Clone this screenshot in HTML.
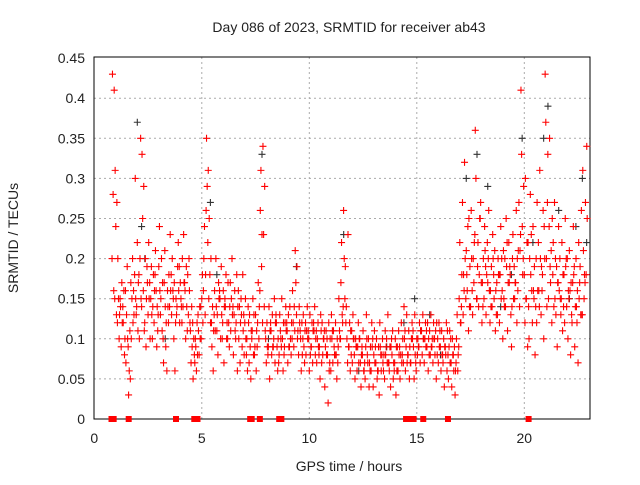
<!DOCTYPE html>
<html><head><meta charset="utf-8"><style>
html,body{margin:0;padding:0;background:#fff}
svg text{font-family:"Liberation Sans",sans-serif;fill:#222}
</style></head><body>
<svg id="chart" width="640" height="480" viewBox="0 0 640 480" xmlns="http://www.w3.org/2000/svg">
<rect width="640" height="480" fill="#fff"/>
<text x="349" y="32" font-size="14" text-anchor="middle">Day 086 of 2023, SRMTID for receiver ab43</text>
<g id="grid"></g>
<g id="axes"></g>
<g id="marks"></g>
<text x="349" y="471" font-size="14" text-anchor="middle">GPS time / hours</text>
<text transform="translate(18,238) rotate(-90)" font-size="14" text-anchor="middle">SRMTID / TECUs</text>
</svg>
<script>
const xTicks=[0,5,10,15,20];
const yTicks=[0,0.05,0.1,0.15,0.2,0.25,0.3,0.35,0.4,0.45];
const yTickLabels=["0","0.05","0.1","0.15","0.2","0.25","0.3","0.35","0.4","0.45"];
const redBins=[
[0.875,0.43,0.28,0.16],[1.0,0.31,0.24,0.13],[1.125,0.2,0.15,0.1],[1.25,0.14,0.09,0.17],[1.375,0.12,0.16,0.08],[1.5,0.07,0.13,0.19],[1.625,0.03,0.06,0.11],[1.75,0.1,0.15,0.2],[1.875,0.13,0.18,0.3],[2.0,0.14,0.22,0.11],[2.125,0.1,0.2,0.35],[2.25,0.33,0.25,0.16],[2.375,0.12,0.2,0.09],[2.5,0.17,0.13,0.22],[2.625,0.1,0.15,0.19],[2.75,0.14,0.18,0.12],[2.875,0.21,0.16,0.09],[3.0,0.13,0.19,0.24],[3.125,0.15,0.2,0.11],[3.25,0.07,0.17,0.21],[3.375,0.12,0.06,0.16],[3.5,0.18,0.14,0.23],[3.625,0.13,0.2,0.16],[3.75,0.17,0.06,0.12],[3.875,0.14,0.19,0.22],[4.0,0.12,0.17,0.15],[4.125,0.2,0.14,0.23],[4.25,0.16,0.1,0.19],[4.375,0.18,0.13,0.2],[4.5,0.11,0.07,0.14],[4.625,0.05,0.1,0.08],[4.75,0.09,0.06,0.12],[4.875,0.11,0.08,0.14],[5.0,0.1,0.15,0.18],[5.125,0.2,0.24,0.13],[5.25,0.35,0.29,0.22],[5.375,0.25,0.18,0.12],[5.5,0.09,0.14,0.06],[5.625,0.16,0.11,0.2],[5.75,0.13,0.08,0.17],[5.875,0.15,0.1,0.19],[6.0,0.12,0.16,0.07],[6.125,0.14,0.18,0.1],[6.25,0.17,0.12,0.09],[6.375,0.11,0.15,0.2],[6.5,0.08,0.13,0.16],[6.625,0.12,0.18,0.06],[6.75,0.1,0.14,0.07],[6.875,0.13,0.09,0.18],[7.0,0.08,0.12,0.15],[7.125,0.1,0.06,0.14],[7.25,0.13,0.09,0.05],[7.375,0.11,0.15,0.08],[7.5,0.09,0.13,0.06],[7.625,0.12,0.17,0.1],[7.75,0.26,0.31,0.19],[7.875,0.34,0.23,0.14],[8.0,0.1,0.07,0.12],[8.125,0.09,0.14,0.05],[8.25,0.11,0.08,0.13],[8.375,0.1,0.15,0.07],[8.5,0.12,0.09,0.06],[8.625,0.08,0.13,0.11],[8.75,0.15,0.1,0.06],[8.875,0.09,0.12,0.14],[9.0,0.11,0.07,0.13],[9.125,0.14,0.1,0.08],[9.25,0.16,0.12,0.09],[9.375,0.21,0.17,0.13],[9.5,0.11,0.08,0.14],[9.625,0.1,0.06,0.12],[9.75,0.13,0.09,0.07],[9.875,0.08,0.11,0.14],[10.0,0.1,0.06,0.13],[10.125,0.09,0.12,0.07],[10.25,0.11,0.14,0.08],[10.375,0.07,0.1,0.12],[10.5,0.09,0.05,0.13],[10.625,0.12,0.08,0.1],[10.75,0.04,0.09,0.11],[10.875,0.08,0.02,0.12],[11.0,0.1,0.06,0.13],[11.125,0.07,0.11,0.09],[11.25,0.12,0.08,0.05],[11.375,0.09,0.15,0.11],[11.5,0.17,0.22,0.13],[11.625,0.26,0.2,0.15],[11.75,0.14,0.1,0.07],[11.875,0.09,0.12,0.06],[12.0,0.11,0.07,0.13],[12.125,0.08,0.05,0.1],[12.25,0.06,0.09,0.12],[12.375,0.1,0.07,0.04],[12.5,0.08,0.11,0.06],[12.625,0.05,0.09,0.13],[12.75,0.07,0.1,0.04],[12.875,0.09,0.06,0.12],[13.0,0.04,0.08,0.11],[13.125,0.07,0.1,0.05],[13.25,0.09,0.03,0.12],[13.375,0.06,0.08,0.1],[13.5,0.08,0.05,0.11],[13.625,0.1,0.07,0.13],[13.75,0.06,0.09,0.04],[13.875,0.08,0.11,0.05],[14.0,0.07,0.1,0.03],[14.125,0.09,0.06,0.11],[14.25,0.05,0.08,0.12],[14.375,0.1,0.07,0.14],[14.5,0.06,0.09,0.13],[14.625,0.08,0.11,0.05],[14.75,0.07,0.1,0.12],[14.875,0.09,0.05,0.13],[15.0,0.06,0.1,0.08],[15.125,0.09,0.12,0.07],[15.25,0.11,0.08,0.13],[15.375,0.07,0.1,0.12],[15.5,0.09,0.12,0.06],[15.625,0.11,0.08,0.13],[15.75,0.1,0.07,0.12],[15.875,0.08,0.11,0.05],[16.0,0.1,0.07,0.12],[16.125,0.09,0.06,0.11],[16.25,0.07,0.1,0.04],[16.375,0.08,0.12,0.06],[16.5,0.05,0.09,0.11],[16.625,0.07,0.04,0.1],[16.75,0.06,0.09,0.03],[16.875,0.1,0.13,0.06],[17.0,0.15,0.22,0.12],[17.125,0.18,0.27,0.13],[17.25,0.32,0.2,0.15],[17.375,0.16,0.24,0.11],[17.5,0.19,0.14,0.26],[17.625,0.13,0.2,0.17],[17.75,0.36,0.3,0.15],[17.875,0.22,0.14,0.18],[18.0,0.27,0.17,0.12],[18.125,0.2,0.15,0.24],[18.25,0.13,0.18,0.22],[18.375,0.26,0.16,0.12],[18.5,0.19,0.14,0.23],[18.625,0.15,0.21,0.11],[18.75,0.17,0.13,0.2],[18.875,0.12,0.18,0.24],[19.0,0.16,0.1,0.21],[19.125,0.2,0.14,0.25],[19.25,0.11,0.17,0.22],[19.375,0.18,0.13,0.09],[19.5,0.23,0.15,0.19],[19.625,0.17,0.26,0.12],[19.75,0.21,0.27,0.14],[19.875,0.41,0.33,0.24],[20.0,0.29,0.18,0.12],[20.125,0.15,0.22,0.09],[20.25,0.1,0.2,0.28],[20.375,0.16,0.12,0.24],[20.5,0.19,0.08,0.14],[20.625,0.27,0.16,0.22],[20.75,0.31,0.2,0.13],[20.875,0.18,0.26,0.1],[21.0,0.43,0.37,0.2],[21.125,0.33,0.15,0.24],[21.25,0.17,0.21,0.12],[21.375,0.22,0.14,0.27],[21.5,0.13,0.19,0.09],[21.625,0.24,0.16,0.2],[21.75,0.15,0.22,0.11],[21.875,0.18,0.12,0.25],[22.0,0.14,0.2,0.1],[22.125,0.21,0.16,0.08],[22.25,0.12,0.17,0.24],[22.375,0.09,0.14,0.2],[22.5,0.16,0.07,0.22],[22.625,0.19,0.13,0.26],[22.75,0.31,0.21,0.15],[22.875,0.27,0.18,0.34]
];
const redExtra=[
[0.41,0.2],[0.27,0.15],[0.13,0.12],[0.12,0.15],[0.1,0.14],[0.1,0.16],[0.05,0.09],[0.12,0.17],[0.15,0.16],[0.17,0.13],[0.15,0.18],[0.29,0.14],[0.15,0.11],[0.15,0.19],[0.13,0.17],[0.16,0.1],[0.14,0.18],[0.16,0.11],[0.17,0.13],[0.14,0.1],[0.14,0.09],[0.16,0.12],[0.15,0.18],[0.15,0.1],[0.16,0.13],[0.14,0.19],[0.17,0.12],[0.14,0.17],[0.16,0.11],[0.09,0.12],[0.07,0.12],[0.08,0.1],[0.1,0.13],[0.12,0.14],[0.18,0.16],[0.31,0.26],[0.2,0.15],[0.11,0.12],[0.14,0.13],[0.15,0.11],[0.13,0.16],[0.14,0.1],[0.12,0.15],[0.14,0.1],[0.13,0.17],[0.11,0.14],[0.14,0.1],[0.12,0.16],[0.11,0.15],[0.1,0.13],[0.12,0.08],[0.11,0.07],[0.13,0.1],[0.11,0.08],[0.14,0.09],[0.23,0.16],[0.29,0.12],[0.09,0.11],[0.11,0.08],[0.09,0.12],[0.12,0.09],[0.1,0.13],[0.1,0.07],[0.12,0.09],[0.11,0.08],[0.09,0.12],[0.12,0.09],[0.14,0.1],[0.19,0.11],[0.12,0.1],[0.08,0.11],[0.11,0.1],[0.1,0.12],[0.08,0.11],[0.11,0.09],[0.1,0.12],[0.09,0.11],[0.11,0.08],[0.1,0.07],[0.08,0.11],[0.06,0.1],[0.1,0.07],[0.08,0.11],[0.1,0.08],[0.1,0.07],[0.12,0.1],[0.19,0.14],[0.23,0.12],[0.11,0.09],[0.1,0.08],[0.09,0.1],[0.07,0.09],[0.08,0.1],[0.06,0.09],[0.1,0.07],[0.07,0.08],[0.09,0.06],[0.07,0.1],[0.06,0.09],[0.09,0.06],[0.07,0.08],[0.08,0.06],[0.07,0.09],[0.09,0.07],[0.07,0.1],[0.09,0.06],[0.08,0.06],[0.07,0.09],[0.1,0.08],[0.07,0.11],[0.09,0.08],[0.1,0.07],[0.08,0.11],[0.1,0.07],[0.11,0.09],[0.1,0.11],[0.09,0.1],[0.1,0.11],[0.09,0.08],[0.1,0.09],[0.12,0.1],[0.09,0.08],[0.08,0.11],[0.09,0.08],[0.11,0.09],[0.07,0.08],[0.08,0.1],[0.06,0.08],[0.08,0.07],[0.12,0.09],[0.18,0.14],[0.21,0.16],[0.25,0.18],[0.2,0.14],[0.22,0.16],[0.15,0.23],[0.25,0.19],[0.17,0.25],[0.21,0.14],[0.17,0.19],[0.16,0.2],[0.2,0.14],[0.16,0.18],[0.18,0.13],[0.15,0.18],[0.15,0.2],[0.19,0.14],[0.17,0.22],[0.14,0.19],[0.15,0.2],[0.2,0.17],[0.21,0.16],[0.18,0.23],[0.3,0.2],[0.22,0.15],[0.18,0.14],[0.16,0.23],[0.2,0.15],[0.16,0.12],[0.19,0.14],[0.24,0.16],[0.14,0.2],[0.35,0.27],[0.25,0.19],[0.15,0.18],[0.17,0.2],[0.15,0.17],[0.18,0.13],[0.19,0.14],[0.16,0.2],[0.17,0.15],[0.18,0.13],[0.14,0.19],[0.15,0.12],[0.13,0.17],[0.18,0.13],[0.25,0.17],[0.22,0.29]
];
const zeroTimes=[0.8,0.9,1.6,3.8,4.65,4.72,4.8,7.25,7.32,7.7,8.6,8.7,14.5,14.75,14.85,15.3,16.45,20.2];
const blackTimes=[2.0,2.2,2.35,3.3,5.4,5.7,7.8,8.1,9.4,11.6,12.3,13.6,14.4,14.9,15.6,16.1,17.3,17.8,18.3,18.9,19.4,19.9,20.4,20.9,21.1,21.6,22.1,22.4,22.7,22.9];
const blackValues=[0.37,0.24,0.2,0.1,0.27,0.18,0.33,0.1,0.19,0.23,0.06,0.09,0.12,0.15,0.13,0.08,0.3,0.33,0.29,0.14,0.18,0.35,0.22,0.35,0.39,0.26,0.15,0.24,0.3,0.22];

const X0=94.3,PX=21.5,Y0=419,PY=802;
function xs(t){return X0+t*PX;}
function ys(v){return Y0-v*PY;}
const NS="http://www.w3.org/2000/svg";
function mk(tag,attrs,parent){const e=document.createElementNS(NS,tag);for(const k in attrs)e.setAttribute(k,attrs[k]);parent.appendChild(e);return e;}
const grid=document.getElementById('grid'),axes=document.getElementById('axes'),marks=document.getElementById('marks');
const L=94,R=590,T=57,B=419;
yTicks.forEach((v,i)=>{
  const y=ys(v);
  if(i>0&&i<yTicks.length-1){const g=mk('line',{x1:L,x2:R,y1:y,y2:y,stroke:'#aaa','stroke-dasharray':'2,3','stroke-width':1},grid);
  
  }
  const t=mk('text',{x:L-9,y:y+5,'font-size':14,'text-anchor':'end'},axes);t.textContent=yTickLabels[i];
  
  
});
xTicks.forEach(v=>{
  const x=xs(v);
  if(v>0){const g=mk('line',{x1:x,x2:x,y1:T,y2:B,stroke:'#aaa','stroke-dasharray':'2,3','stroke-width':1},grid);
  
  }
  const t=mk('text',{x:x,y:443,'font-size':14,'text-anchor':'middle'},axes);t.textContent=String(v);
  
  
});
const frame=mk('rect',{x:L,y:T,width:R-L,height:B-T,fill:'none',stroke:'#000','stroke-width':1},axes);


function plus(t,v,color,name){
  const x=xs(t),y=ys(v);
  const p=mk('path',{d:`M${x-3.5},${y}H${x+3.5}M${x},${y-3.5}V${y+3.5}`,stroke:color,'stroke-width':1.1,fill:'none'},marks);
  
  
}
blackTimes.forEach((t,i)=>plus(t,blackValues[i],'#333','black-point'));
redBins.forEach((b,i)=>{
  for(let j=1;j<b.length;j++)plus(b[0]+(j-2)*0.03,b[j],'#f00','red-point');
  const ex=redExtra[i]||[];
  ex.forEach((v,k)=>plus(b[0]+(k===0?0.05:-0.05),v,'#f00','red-point'));
});
zeroTimes.forEach(t=>{
  const r=mk('rect',{x:xs(t)-3,y:Y0-3,width:6,height:6,fill:'#f00'},marks);
  
  
});
</script>
</body></html>
